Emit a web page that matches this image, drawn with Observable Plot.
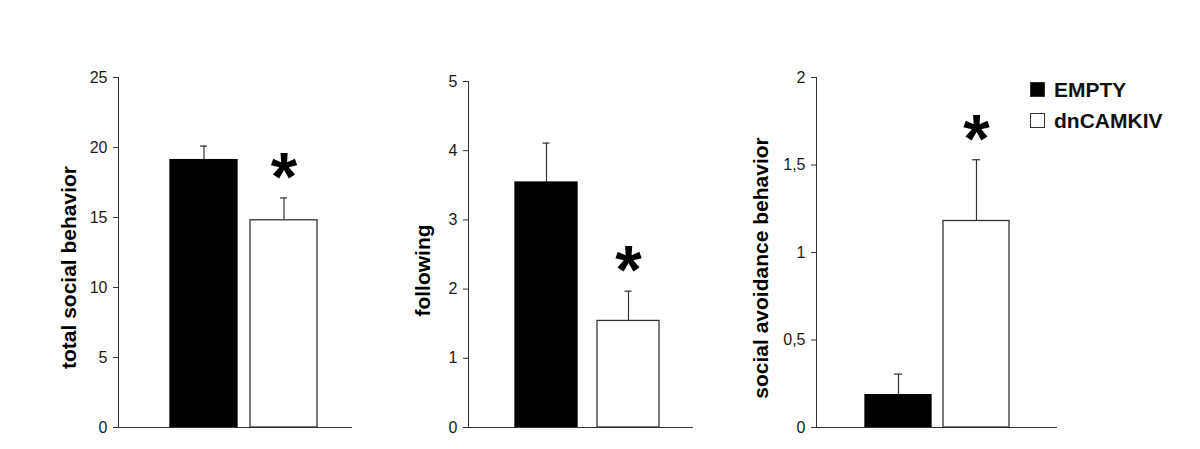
<!DOCTYPE html>
<html>
<head>
<meta charset="utf-8">
<script src="https://cdn.jsdelivr.net/npm/d3@7"></script>
<script src="https://cdn.jsdelivr.net/npm/@observablehq/plot@0.6"></script>
<style>
  html, body { margin: 0; padding: 0; background: #fff; }
  #chart { position: relative; width: 1200px; height: 449px; font-family: "Liberation Sans", Arial, sans-serif; }
  .panel { position: absolute; top: 0; }
  .legend { position: absolute; left: 1030px; top: 74px; font-weight: bold; font-size: 21px; color: #111; }
  .legend .row { display: flex; align-items: center; height: 31px; }
  .legend .sw { width: 13px; height: 13px; border: 1px solid #333; margin-right: 9px; box-sizing: content-box; }
</style>
</head>
<body>
<div id="chart"></div>
<script>
// ---- data ----
const groups = ["EMPTY", "dnCAMKIV"];
const groupFills = ["#000000", "#ffffff"];
const significant = [false, true];

const totalSocialMean = [19.1, 14.8];
const totalSocialErr = [1.0, 1.6];
const totalSocialTicks = [0, 5, 10, 15, 20, 25];

const followingMean = [3.54, 1.54];
const followingErr = [0.57, 0.43];
const followingTicks = [0, 1, 2, 3, 4, 5];

const avoidanceMean = [0.185, 1.18];
const avoidanceErr = [0.12, 0.35];
const avoidanceTicks = [0, 0.5, 1, 1.5, 2];

const panels = [
  {title: "total social behavior", mean: totalSocialMean, err: totalSocialErr, ticks: totalSocialTicks,
   left: 0, width: 360, mL: 118, mR: 8, mT: 77, pad: 0.16, padOuter: 0.525, align: 0.6, capInset: 30,
   tdx: -49, tdy: 15, fmt: d => String(d)},
  {title: "following", mean: followingMean, err: followingErr, ticks: followingTicks,
   left: 360, width: 345, mL: 108, mR: 12, mT: 81, pad: 0.24, padOuter: 0.476, align: 0.58, capInset: 27.5,
   tdx: -45, tdy: 16, fmt: d => String(d)},
  {title: "social avoidance behavior", mean: avoidanceMean, err: avoidanceErr, ticks: avoidanceTicks,
   left: 705, width: 360, mL: 111, mR: 8, mT: 77, pad: 0.154, padOuter: 0.62, align: 0.5, capInset: 29,
   tdx: -55, tdy: 15.5, fmt: d => String(d).replace(".", ",")}
];

const chart = document.getElementById("chart");
const axisColor = "#333";

for (const p of panels) {
  const rows = groups.map((g, i) => ({group: g, value: p.mean[i], err: p.err[i], fill: groupFills[i], sig: significant[i]}));
  const top = d => d.value + d.err;
  const plot = Plot.plot({
    width: p.width,
    height: 449,
    marginLeft: p.mL,
    marginRight: p.mR,
    marginTop: p.mT,
    marginBottom: 22,
    style: {fontFamily: "'Liberation Sans', Arial, sans-serif", fontSize: "16px", color: "#1a1a1a", background: "transparent"},
    x: {domain: groups, type: "band", paddingInner: p.pad, paddingOuter: p.padOuter, align: p.align, axis: null},
    y: {domain: [p.ticks[0], p.ticks[p.ticks.length - 1]], axis: null},
    marks: [
      Plot.barY(rows, {x: "group", y: "value", fill: "fill", stroke: d => d.fill === "#000000" ? "#000" : axisColor, strokeWidth: 1.3}),
      Plot.ruleX(rows, {x: "group", y1: "value", y2: top, stroke: axisColor, strokeWidth: 1.2}),
      Plot.tickY(rows, {x: "group", y: top, stroke: axisColor, strokeWidth: 1.2, insetLeft: p.capInset, insetRight: p.capInset}),
      Plot.text(rows.filter(d => d.sig), {x: "group", y: top, text: () => "*", fontSize: 68, fontWeight: "bold", fill: "#000", dy: -20}),
      Plot.axisY({ticks: p.ticks, tickSize: 5, tickPadding: 6, tickFormat: p.fmt, label: null, stroke: axisColor}),
      Plot.frame({anchor: "left", stroke: axisColor}),
      Plot.ruleY([0], {stroke: axisColor, strokeWidth: 1.2}),
      Plot.text([p.title], {frameAnchor: "left", textAnchor: "middle", rotate: -90, dx: p.tdx, dy: p.tdy, fontSize: 21, fontWeight: "bold", fill: "#000"})
    ]
  });
  const wrap = document.createElement("div");
  wrap.className = "panel";
  wrap.style.left = p.left + "px";
  wrap.appendChild(plot);
  chart.appendChild(wrap);
}

// legend
const legend = document.createElement("div");
legend.className = "legend";
groups.forEach((g, i) => {
  const row = document.createElement("div");
  row.className = "row";
  const sw = document.createElement("span");
  sw.className = "sw";
  sw.style.background = groupFills[i];
  const label = document.createElement("span");
  label.textContent = g;
  row.appendChild(sw);
  row.appendChild(label);
  legend.appendChild(row);
});
chart.appendChild(legend);
</script>
</body>
</html>
